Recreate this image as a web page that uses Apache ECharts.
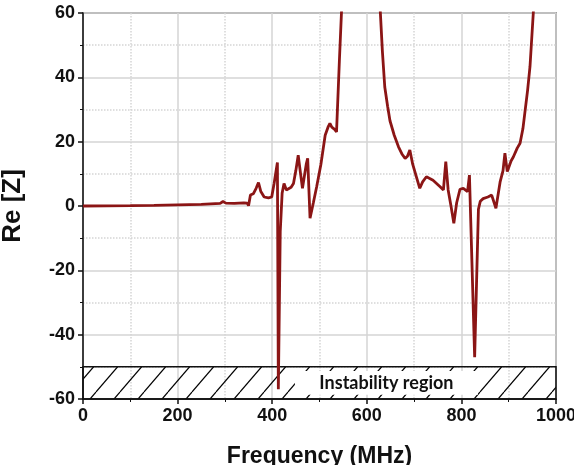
<!DOCTYPE html>
<html>
<head>
<meta charset="utf-8">
<script src="https://cdn.jsdelivr.net/npm/echarts@6/dist/echarts.min.js"></script>
<style>
  html, body { margin: 0; padding: 0; background: #fff; }
  #main { width: 574px; height: 465px; }
</style>
</head>
<body>
<div id="main"></div>
<script>
// frequency (MHz) / Re[Z]
var freq = [0, 50, 100, 150, 200, 250, 290, 296, 302, 320, 340, 347, 350, 354, 360, 366, 371, 376, 383, 392, 399,
    404, 411, 413, 417, 421, 425, 430, 434, 440, 445, 450, 455, 460, 464, 467, 472, 475, 480, 487, 494, 503, 512,
    518, 522, 526, 532, 536, 542, 547, 555, 590, 618, 628, 633, 638, 644, 649, 658, 667, 675, 681, 686, 691, 697,
    705, 712, 718, 726, 740, 755, 762, 767, 772, 778, 784, 790, 797, 804, 813, 817, 828, 836, 840, 846, 856, 864,
    873, 882, 888, 892, 897, 905, 910, 918, 924, 930, 934, 940, 945, 952, 958];
var reZ = [0, 0.05, 0.1, 0.2, 0.35, 0.5, 0.8, 1.4, 0.9, 0.8, 1.0, 0.9, 0.1, 3.4, 3.8, 5.5, 7.3, 4.5, 2.8, 2.5, 2.8,
    7.0, 13.5, -57, -8, 4, 7, 5, 4.5, 5.8, 7, 11, 15.8, 10, 5.5, 6, 13, 14.8, -3.8, 1, 6, 13, 22,
    24.5, 25.7, 24.5, 23.8, 23, 45, 62, 120, 400, 120, 62, 48, 37, 31, 26.5, 22, 18.4, 16, 14.8, 15.5, 17.4, 13,
    9, 5.5, 7.5, 9.1, 8, 6, 5, 13.8, 5, 0, -5.4, 1, 5.2, 5.5, 4.5, 9.6, -47, -1, 1.5, 2.3, 2.8, 3.4,
    -0.7, 7.6, 11, 16.4, 10.7, 14, 15.3, 18, 19.5, 24, 28.8, 36, 43.3, 60, 80];

var xTicks = [0, 200, 400, 600, 800, 1000];
var yTicks = [-60, -40, -20, 0, 20, 40, 60];
var bandLow = -60, bandHigh = -50;
var bandLabel = 'Instability region';

var seriesData = [];
for (var i = 0; i < freq.length; i++) {
    seriesData.push([freq[i], reZ[i]]);
}

// hatch tile for the instability band
function hatchTile() {
    var w = 24, h = 28;
    var c = document.createElement('canvas');
    c.width = w;
    c.height = h;
    var ctx = c.getContext('2d');
    ctx.strokeStyle = '#000';
    ctx.lineWidth = 1.2;
    for (var k = -1; k <= 1; k++) {
        ctx.beginPath();
        ctx.moveTo(k * w, h);
        ctx.lineTo((k + 1) * w, 0);
        ctx.stroke();
    }
    return c;
}

var myChart = echarts.init(document.getElementById('main'));
var option = {
    animation: false,
    backgroundColor: '#fff',
    grid: {
        left: 83, right: 18, top: 13, bottom: 66,
        outerBoundsMode: 'none',
        containLabel: false,
        show: true,
        borderColor: '#555',
        borderWidth: 1.5
    },
    xAxis: {
        type: 'value',
        min: xTicks[0],
        max: xTicks[xTicks.length - 1],
        interval: 200,
        name: 'Frequency (MHz)',
        nameLocation: 'middle',
        nameGap: 46,
        nameTextStyle: { fontFamily: 'Liberation Sans', fontWeight: 'bold', fontSize: 23, color: '#111' },
        axisLine: { onZero: false, lineStyle: { color: '#111', width: 1.5 } },
        axisTick: { length: 5, lineStyle: { color: '#111', width: 1.5 } },
        minorTick: { show: true, splitNumber: 2, length: 3, lineStyle: { color: '#111' } },
        axisLabel: {
            fontFamily: 'Liberation Sans', fontWeight: 'bold', fontSize: 18, color: '#111', margin: 8,
            formatter: function (v) { return String(v); }
        },
        splitLine: { lineStyle: { color: '#d5d5d5', width: 1.5 } },
        minorSplitLine: { show: true, lineStyle: { color: '#d5d5d5', type: 'dotted', width: 1.5 } }
    },
    yAxis: {
        type: 'value',
        min: yTicks[0],
        max: yTicks[yTicks.length - 1],
        interval: 20,
        name: 'Re [Z]',
        nameLocation: 'middle',
        nameGap: 57,
        nameTextStyle: { fontFamily: 'Liberation Sans', fontWeight: 'bold', fontSize: 26, color: '#111' },
        axisLine: { show: true, onZero: false, lineStyle: { color: '#111', width: 1.5 } },
        axisTick: { show: true, length: 5, lineStyle: { color: '#111', width: 1.5 } },
        minorTick: { show: true, splitNumber: 2, length: 3, lineStyle: { color: '#111' } },
        axisLabel: { fontFamily: 'Liberation Sans', fontWeight: 'bold', fontSize: 18, color: '#111', margin: 8 },
        splitLine: { lineStyle: { color: '#d5d5d5', width: 1.5 } },
        minorSplitLine: { show: true, lineStyle: { color: '#d5d5d5', type: 'dotted', width: 1.5 } }
    },
    series: [{
        type: 'line',
        data: seriesData,
        showSymbol: false,
        clip: true,
        lineStyle: { color: '#8b1515', width: 2.8 },
        z: 5,
        markArea: {
            silent: true,
            data: [
                [{
                    xAxis: xTicks[0], yAxis: bandHigh,
                    itemStyle: {
                        color: { image: hatchTile(), repeat: 'repeat' },
                        borderColor: '#111', borderWidth: 1.5
                    }
                }, { xAxis: xTicks[xTicks.length - 1], yAxis: bandLow }],
                [{
                    xAxis: 448, yAxis: -51.3,
                    itemStyle: { color: '#fff', borderWidth: 0 },
                    label: {
                        show: true, position: 'inside', formatter: bandLabel,
                        fontFamily: 'Lato', fontWeight: 'bold', fontSize: 18, color: '#111'
                    }
                }, { xAxis: 835, yAxis: -58.7 }]
            ]
        }
    }]
};
myChart.setOption(option);
</script>
</body>
</html>
